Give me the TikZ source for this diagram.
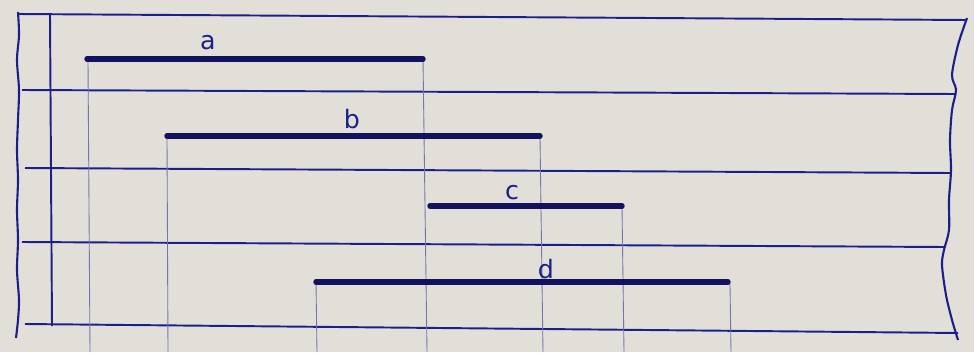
\documentclass[tikz,border=0pt]{standalone}
\usepackage{fontspec}
\setsansfont{DejaVu Sans}
\begin{document}
\begin{tikzpicture}[x=0.02cm, y=-0.02cm]
    \definecolor{paperColour}{RGB}{226,223,216}
    \definecolor{inkColour}{RGB}{28,30,140}
    \definecolor{barColour}{RGB}{18,18,95}

    \tikzset{
        rule/.style={draw=inkColour, line width=1.1pt},
        bar/.style={draw=barColour, line width=3.1pt, line cap=round},
        drop/.style={draw=inkColour!55!paperColour, line width=0.5pt},
        barlabel/.style={text=inkColour, font=\sffamily\Large, inner sep=0pt}
    }

    % Paper
    \fill[paperColour] (0,0) rectangle (974,352);
    \useasboundingbox (0,0) rectangle (974,352);

    % Torn edges left and right
    \draw[rule, line width=1.2pt] plot[smooth] coordinates {(18,12) (19,35) (17,60) (19,90) (18,120) (17,150) (18,180) (17,210) (18,240) (17,270) (19,300) (18,320) (16,338)};
    \draw[rule, line width=1.2pt] plot[smooth] coordinates {(967,18) (958,45) (952,75) (956,90) (952,110) (950,140) (951,170) (949,200) (949,230) (944,250) (942,265) (946,295) (952,320) (958,340)};

    % Row rules
    \foreach \xs/\ys/\xe/\ye in {18/14/967/20, 22/90/956/94, 25/168/951/173, 22/242/945/247, 25/324/958/333}
        \draw[rule] (\xs,\ys) -- (\xe,\ye);

    % Left margin line
    \draw[rule] (50,14) -- (52,326);

    % Drop lines down to the bottom edge
    \foreach \xs/\ys/\xe in {88/60/90, 423/59/427, 167/136/168, 540/137/543, 622/207/624, 316/282/317, 730/284/731}
        \draw[drop] (\xs,\ys) -- (\xe,352);

    % Bars a, b, c, d
    \foreach \name/\xs/\xe/\y/\lx/\ly in {a/87/423/59/208/43, b/167/540/136/352/119, c/430/622/206/512/193, d/316/728/282/546/269}
    {
        \coordinate (\name-start) at (\xs,\y);
        \coordinate (\name-end) at (\xe,\y);
        \draw[bar] (\name-start) -- (\name-end);
        \node[barlabel] (lbl-\name) at (\lx,\ly) {\name};
    }

\end{tikzpicture}
\end{document}
